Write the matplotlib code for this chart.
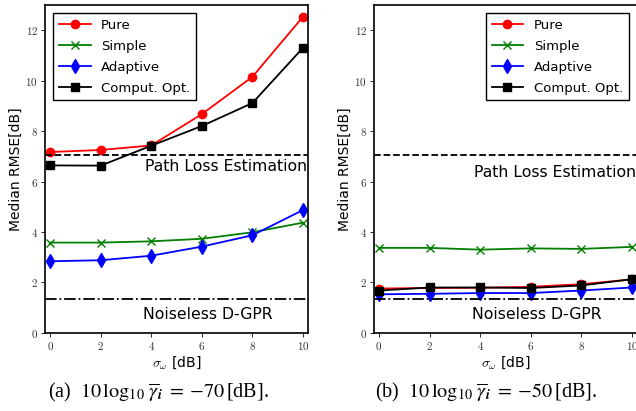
import numpy as np
import matplotlib
matplotlib.use("Agg")
import matplotlib.pyplot as plt

sigma = [0, 2, 4, 6, 8, 10]

# (a) -70 dB
pure_a = [7.17, 7.25, 7.43, 8.67, 10.15, 12.53]
simple_a = [3.58, 3.58, 3.63, 3.73, 3.99, 4.37]
adaptive_a = [2.84, 2.88, 3.06, 3.42, 3.87, 4.87]
comput_a = [6.64, 6.63, 7.42, 8.20, 9.11, 11.30]
pathloss_a = 7.05
noiseless_a = 1.34

# (b) -50 dB
pure_b = [1.76, 1.78, 1.79, 1.83, 1.93, 2.12]
simple_b = [3.37, 3.37, 3.30, 3.35, 3.33, 3.41]
adaptive_b = [1.53, 1.55, 1.58, 1.58, 1.68, 1.80]
comput_b = [1.68, 1.80, 1.80, 1.78, 1.88, 2.13]
pathloss_b = 7.05
noiseless_b = 1.33

captions = [r"(a)  $10\,\log_{10}\,\overline{\gamma}_{\boldsymbol{i}}\;=\;{-}70\,$[dB].",
            r"(b)  $10\,\log_{10}\,\overline{\gamma}_{\boldsymbol{i}}\;=\;{-}50\,$[dB]."]

fig = plt.figure(figsize=(6.36, 4.11), dpi=100)
ax_a = fig.add_axes([0.0708, 0.19, 0.4135, 0.798])
ax_b = fig.add_axes([0.588, 0.19, 0.4135, 0.798])


def draw(ax, pure, simple, adaptive, comput, pathloss, noiseless, legloc, pl_y, nl_y):
    ax.plot(sigma, pure, color="red", marker="o", ms=6, lw=1.3, label="Pure")
    ax.plot(sigma, simple, color="green", marker="x", ms=6, mew=1.0, lw=1.3, label="Simple")
    ax.plot(sigma, adaptive, color="blue", marker="d", ms=7, lw=1.3, label="Adaptive")
    ax.plot(sigma, comput, color="black", marker="s", ms=6, lw=1.3, label="Comput. Opt.")
    ax.axhline(pathloss, color="black", ls="--", lw=1.3)
    ax.axhline(noiseless, color="black", ls="-.", lw=1.3)
    ax.text(10.15, pl_y, "Path Loss Estimation", ha="right", va="center", fontsize=11.3)
    ax.text(6.25, nl_y, "Noiseless D-GPR", ha="center", va="center", fontsize=11.3)
    ax.set_xlim(-0.2, 10.2)
    ax.set_ylim(0, 13)
    ax.set_xticks(sigma)
    ax.set_yticks([0, 2, 4, 6, 8, 10, 12])
    ax.set_xticklabels([f"${v}$" for v in sigma], color="#333333", fontsize=8)
    ax.set_yticklabels([f"${v}$" for v in [0, 2, 4, 6, 8, 10, 12]], color="#333333", fontsize=8)
    for lab in ax.get_xticklabels() + ax.get_yticklabels():
        lab.set_math_fontfamily("cm")
    ax.tick_params(direction="out", length=3, width=0.6, pad=2)
    for s in ax.spines.values():
        s.set_linewidth(1.2)
    xl = ax.set_xlabel(r"$\sigma_\omega$ [dB]", fontsize=10, labelpad=2)
    xl.set_math_fontfamily("cm")
    ax.set_ylabel("Median RMSE[dB]", fontsize=10, labelpad=2)
    leg = ax.legend(loc=legloc, fontsize=9.5, fancybox=False, edgecolor="black",
                    framealpha=1, handlelength=2.4, borderpad=0.45, labelspacing=0.6,
                    borderaxespad=0.6)
    leg.get_frame().set_linewidth(1.0)


draw(ax_a, pure_a, simple_a, adaptive_a, comput_a, pathloss_a, noiseless_a,
     "upper left", 6.58, 0.71)
draw(ax_b, pure_b, simple_b, adaptive_b, comput_b, pathloss_b, noiseless_b,
     "upper right", 6.35, 0.71)

for xc, cap in zip([0.249, 0.764], captions):
    t = fig.text(xc, 0.045, cap, ha="center", va="center", fontsize=14.5,
                 family="Liberation Serif")
    t.set_math_fontfamily("stix")

fig.savefig("out.png", dpi=100)
